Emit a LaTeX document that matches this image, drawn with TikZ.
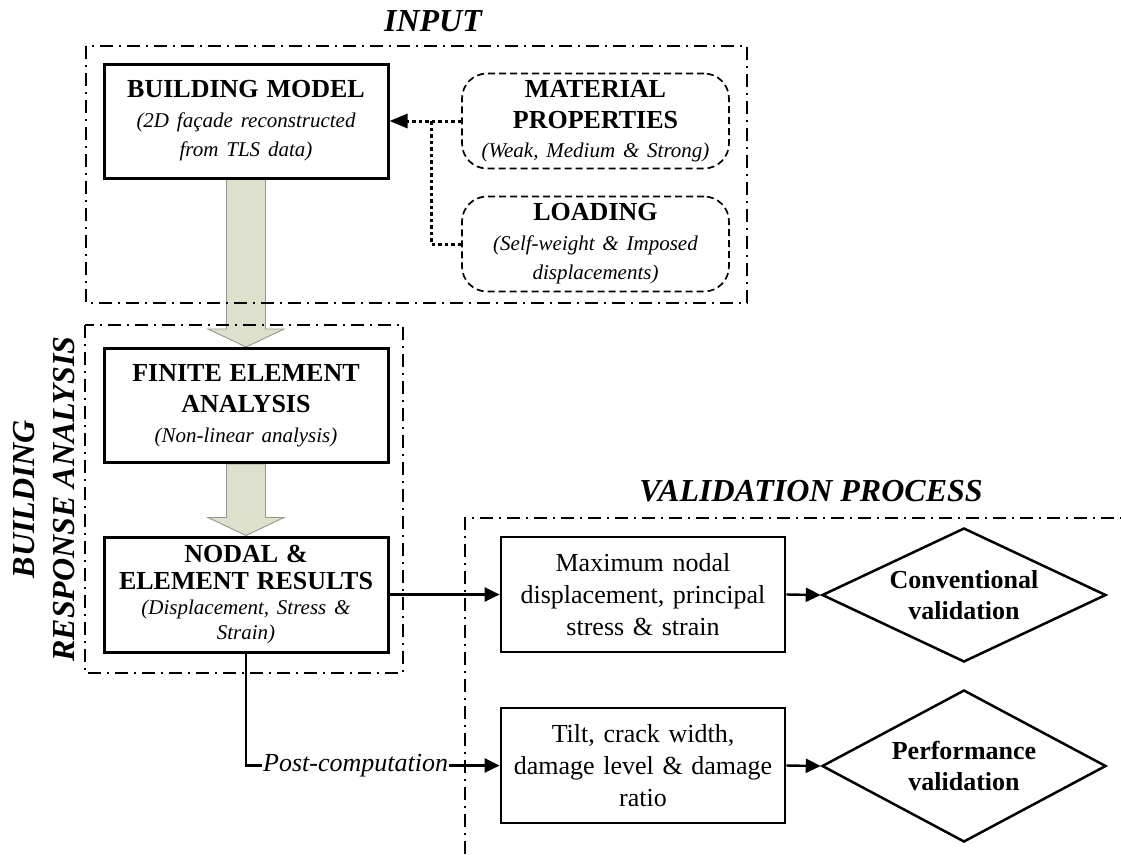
\documentclass[tikz,border=0pt]{standalone}
\usepackage{fontspec}
\setmainfont{Liberation Serif}
\usetikzlibrary{shapes.geometric,arrows.meta,calc,backgrounds}
\definecolor{arrowfill}{RGB}{221,225,204}
\definecolor{arrowdraw}{RGB}{150,150,140}
\newcommand{\mybf}{\fontsize{26}{31}\selectfont\bfseries}
\newcommand{\myit}{\fontsize{21}{29.5}\selectfont\itshape}
\newcommand{\myrm}{\fontsize{26}{32}\selectfont}
\newcommand{\mytitle}{\fontsize{32}{40}\selectfont\bfseries\itshape}
\newcommand{\mybase}{\fontsize{23.5}{30}\selectfont}
\begin{document}
\begin{tikzpicture}[x=1pt,y=-1pt,
  mainbox/.style={draw, line width=3pt, rectangle, minimum width=284pt, minimum height=114pt, inner sep=0pt, text width=280pt, align=center, font=\mybase},
  resbox/.style={draw, line width=2.7pt, rectangle, minimum width=284pt, minimum height=115pt, inner sep=0pt, text width=280pt, align=center, font=\myrm},
  softbox/.style={draw, line width=1.7pt, dash pattern=on 7pt off 4pt, rounded corners=25pt, minimum width=267pt, minimum height=95pt, inner sep=0pt, text width=263pt, align=center, font=\mybase},
  decision/.style={draw, diamond, line width=2.5pt, minimum width=284pt, inner sep=0pt, aspect=2.1, align=center, font=\mybf},
  group/.style={line width=1.7pt, dash pattern=on 13pt off 6pt on 2pt off 6pt},
  title/.style={font=\mytitle, inner sep=0pt},
  flow/.style={line width=2.4pt, -{Triangle[length=15pt,width=14pt]}},
  feed/.style={line width=3pt, dash pattern=on 3.5pt off 3pt},
  bigarrow/.style={fill=arrowfill, draw=arrowdraw, line width=0.9pt},
]
\useasboundingbox (0,0) rectangle (1121,854);

% titles
\node[title, anchor=base] (tin) at (433,31) {INPUT};
\node[title, anchor=base] (tval) at (811,501) {VALIDATION PROCESS};
\node[title, rotate=90, align=center] (tbra) at (44.5,499) {BUILDING\\RESPONSE ANALYSIS};

% input stage
\node[mainbox] (bm) at (246,121) {{\mybf BUILDING MODEL\par}{\myit (2D façade reconstructed\\from TLS data)\par}};
\node[softbox] (mat) at (595.5,121) {{\mybf MATERIAL\\PROPERTIES\par}{\myit (Weak, Medium \& Strong)\par}};
\node[softbox] (load) at (595.5,244) {{\mybf LOADING\par}{\myit (Self-weight \& Imposed\\displacements)\par}};

% analysis stage
\node[mainbox] (fe) at (246,405.5) {{\mybf FINITE ELEMENT\\ANALYSIS\par}{\myit (Non-linear analysis)\par}};
\node[mainbox, minimum height=115pt] (nodal) at (246,594.5) {{\fontsize{26}{27}\selectfont\bfseries NODAL \&\\ELEMENT RESULTS\par}{\fontsize{21}{25}\selectfont\itshape (Displacement, Stress \&\\Strain)\par}};

% validation stage
\node[resbox] (max) at (643,594.5) {Maximum nodal\\displacement, principal\\stress \& strain};
\node[resbox] (tilt) at (643,765.5) {Tilt, crack width,\\damage level \& damage\\ratio};
\node[decision, minimum height=134pt] (conv) at (964,595) {Conventional\\validation};
\node[decision, minimum height=152pt] (perf) at (964,766) {Performance\\validation};

\node[font=\fontsize{26}{30}\selectfont\itshape, anchor=west, inner sep=1pt] (post) at (262,765.5) {Post-computation};

% big block arrows
\begin{scope}[on background layer]
  \fill[white] (0,0) rectangle (1121,854);
  \draw[bigarrow] ($(bm.south)+(-19.5,0)$) -- ($(fe.north)+(-19.5,-18)$) -- ($(fe.north)+(-38,-18)$) -- (fe.north) -- ($(fe.north)+(38,-18)$) -- ($(fe.north)+(19.5,-18)$) -- ($(bm.south)+(19.5,0)$) -- cycle;
  \draw[bigarrow] ($(fe.south)+(-19.5,0)$) -- ($(nodal.north)+(-19.5,-18)$) -- ($(nodal.north)+(-38,-18)$) -- (nodal.north) -- ($(nodal.north)+(38,-18)$) -- ($(nodal.north)+(19.5,-18)$) -- ($(fe.south)+(19.5,0)$) -- cycle;
\end{scope}

% group frames
\draw[group] (86,46) rectangle (747,303);
\draw[group] (85,325) rectangle (403,673);
\draw[group] (465,854) -- (465,518) -- (1121,518);

% dotted feeds
\coordinate (j) at (431,121);
\draw[feed, -{Triangle[length=18pt,width=14pt]}] (mat.west) -- (bm.east);
\draw[feed] (load.west) -| (j);

% connectors
\draw[flow] (nodal.east) -- (max.west);
\draw[line width=2.4pt] (nodal.south) |- (post.west);
\draw[flow] (post.east) -- (tilt.west);
\draw[flow] (max.east) -- (conv.west);
\draw[flow] (tilt.east) -- (perf.west);
\end{tikzpicture}
\end{document}
